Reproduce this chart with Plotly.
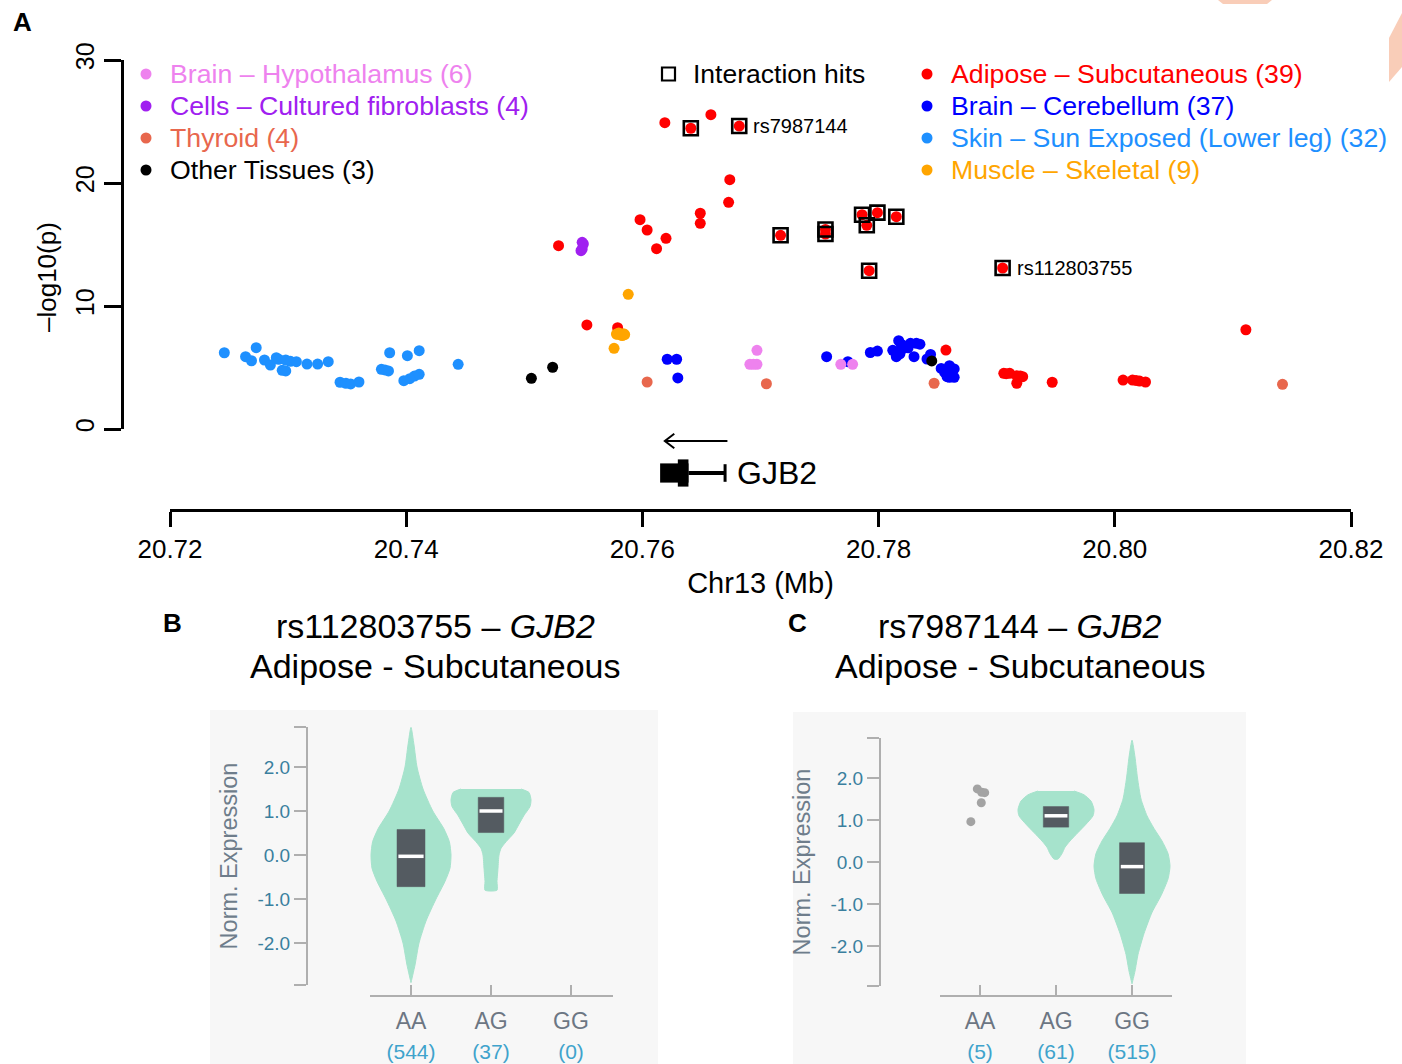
import plotly.graph_objects as go

W, H = 1402, 1064
FONT = "Liberation Sans, Arial, Helvetica, sans-serif"


def fx(x):
    return x / W


def fy(y):
    return 1 - y / H


# ------------------------------------------------------------------
# Panel A data: position (Mb) and -log10(p) per tissue
# ------------------------------------------------------------------
SKIN_X = [20.7246, 20.7264, 20.7269, 20.7273, 20.7280, 20.7285, 20.7290, 20.7292,
          20.7298, 20.7295, 20.7298, 20.7302, 20.7307, 20.7316, 20.7325, 20.7334,
          20.7344, 20.7349, 20.7353, 20.7360, 20.7379, 20.7382, 20.7385, 20.7386,
          20.7401, 20.7411, 20.7411, 20.7407, 20.7403, 20.7398, 20.7444]
SKIN_Y = [6.20, 5.88, 5.55, 6.61, 5.61, 5.20, 5.80, 5.67,
          5.61, 4.77, 4.72, 5.50, 5.47, 5.28, 5.28, 5.47,
          3.80, 3.72, 3.66, 3.82, 4.85, 4.80, 4.72, 6.20,
          5.96, 6.37, 4.45, 4.30, 4.09, 3.93, 5.26]

CEREB_X = [20.7621, 20.7629, 20.7630, 20.7756, 20.7774, 20.7793, 20.7799, 20.7817,
           20.7814, 20.7815, 20.7822, 20.7827, 20.7832, 20.7830, 20.7841, 20.7844,
           20.7853, 20.7860, 20.7864, 20.7860, 20.7864, 20.7858, 20.7819, 20.7820,
           20.7812, 20.7825, 20.7835, 20.7818, 20.7856, 20.7862]
CEREB_Y = [5.67, 5.67, 4.15, 5.88, 5.47, 6.22, 6.34, 7.18,
           6.28, 5.88, 6.75, 6.97, 6.97, 5.88, 5.69, 6.06,
           4.92, 5.15, 4.88, 4.20, 4.20, 4.25, 6.90, 6.50,
           6.40, 6.60, 6.90, 6.10, 4.60, 4.50]

ADIPOSE_X = [20.7619, 20.7641, 20.7658, 20.7682, 20.7674, 20.7673, 20.7649, 20.7649,
             20.7598, 20.7604, 20.7620, 20.7612, 20.7529, 20.7717, 20.7755, 20.7755,
             20.7786, 20.7799, 20.7790, 20.7815, 20.7792, 20.7905, 20.7553, 20.7579,
             20.7857, 20.7906, 20.7911, 20.7917, 20.7922, 20.7917, 20.7947, 20.8007,
             20.8015, 20.8021, 20.8026, 20.8111, 20.7908, 20.7920, 20.8018]
ADIPOSE_Y = [24.90, 24.45, 25.55, 24.63, 20.27, 18.43, 17.54, 16.72,
             17.02, 16.18, 15.50, 14.66, 14.90, 15.75, 16.22, 15.85,
             17.42, 17.59, 16.56, 17.26, 12.87, 13.09, 8.46, 8.24,
             6.42, 4.53, 4.53, 4.33, 4.25, 3.72, 3.80, 3.98,
             3.98, 3.90, 3.82, 8.07, 4.50, 4.30, 3.95]

FIBRO_X = [20.7549, 20.7550, 20.7548, 20.7549]
FIBRO_Y = [15.18, 15.04, 14.50, 14.63]

MUSCLE_X = [20.7588, 20.7579, 20.7584, 20.7582, 20.7576, 20.7580, 20.7583, 20.7578, 20.7585]
MUSCLE_Y = [10.95, 7.70, 7.75, 7.64, 6.56, 7.80, 7.60, 7.72, 7.68]

THYROID_X = [20.7604, 20.7705, 20.7847, 20.8142]
THYROID_Y = [3.82, 3.68, 3.72, 3.63]

HYPO_X = [20.7697, 20.7691, 20.7697, 20.7694, 20.7768, 20.7778]
HYPO_Y = [6.40, 5.26, 5.26, 5.26, 5.26, 5.26]

OTHER_X = [20.7506, 20.7524, 20.7845]
OTHER_Y = [4.12, 5.02, 5.53]

HIT_X = [20.7641, 20.7682, 20.7717, 20.7755, 20.7755, 20.7786, 20.7799,
         20.7790, 20.7815, 20.7792, 20.7905]
HIT_Y = [24.45, 24.63, 15.75, 16.22, 15.85, 17.42, 17.59,
         16.56, 17.26, 12.87, 13.09]

LABEL_SNPS = ["rs7987144", "rs112803755"]
LABEL_X = [20.7682, 20.7905]
LABEL_Y = [24.63, 13.09]

COL_HYPO = "#EE82EE"
COL_FIBRO = "#A020F0"
COL_THYROID = "#E8674D"
COL_OTHER = "#000000"
COL_ADIPOSE = "#FF0000"
COL_CEREB = "#0000FF"
COL_SKIN = "#1E90FF"
COL_MUSCLE = "#FFA500"

LEGEND_LEFT = [("Brain \u2013 Hypothalamus (6)", COL_HYPO),
               ("Cells \u2013 Cultured fibroblasts (4)", COL_FIBRO),
               ("Thyroid (4)", COL_THYROID),
               ("Other Tissues (3)", COL_OTHER)]
LEGEND_RIGHT = [("Adipose \u2013 Subcutaneous (39)", COL_ADIPOSE),
                ("Brain \u2013 Cerebellum (37)", COL_CEREB),
                ("Skin \u2013 Sun Exposed (Lower leg) (32)", COL_SKIN),
                ("Muscle \u2013 Skeletal (9)", COL_MUSCLE)]
HITS_LABEL = "Interaction hits"

X_TICKS = [20.72, 20.74, 20.76, 20.78, 20.80, 20.82]
Y_TICKS = [0, 10, 20, 30]

# Gene model (GJB2, minus strand)
GENE_NAME = "GJB2"
GENE_EXON = (20.7615, 20.7639)
GENE_CDS = (20.7630, 20.7639)
GENE_TX_END = 20.7670
GENE_ARROW = (20.7672, 20.7619)   # tail, head (direction of transcription)

# ------------------------------------------------------------------
# Panels B / C data: violin profiles (value, half-width in category units)
# ------------------------------------------------------------------
GENOTYPES = ["AA", "AG", "GG"]
B_COUNTS = [544, 37, 0]
C_COUNTS = [5, 61, 515]

B_AA_V = [2.9, 2.5, 2.0, 1.5, 1.0, 0.6, 0.3, 0.0, -0.3, -0.6, -1.0, -1.5, -2.0, -2.5, -2.9]
B_AA_W = [0.0, 0.0375, 0.075, 0.15, 0.2725, 0.41, 0.48, 0.50, 0.4875, 0.425, 0.3125, 0.1875, 0.10, 0.05, 0.0]
B_AA_BOX = (-0.72, -0.03, 0.58)   # q1, median, q3

B_AG_V = [1.5, 1.42, 1.25, 1.1, 0.9, 0.7, 0.5, 0.3, 0.15, 0.0, -0.3, -0.6, -0.8]
B_AG_W = [0.375, 0.475, 0.50, 0.4875, 0.4125, 0.35, 0.2875, 0.1875, 0.125, 0.10, 0.0875, 0.075, 0.075]
B_AG_BOX = (0.51, 1.0, 1.31)

C_AA_PTS_X = [-0.12, -0.035, 0.022, 0.062, 0.017]
C_AA_PTS_Y = [0.96, 1.74, 1.66, 1.65, 1.41]

C_AG_V = [1.69, 1.6, 1.45, 1.25, 1.1, 0.9, 0.7, 0.5, 0.35, 0.2, 0.07]
C_AG_W = [0.237, 0.368, 0.461, 0.50, 0.487, 0.395, 0.289, 0.184, 0.118, 0.079, 0.026]
C_AG_BOX = (0.83, 1.10, 1.32)

C_GG_V = [2.9, 2.5, 2.0, 1.5, 1.1, 0.8, 0.5, 0.2, -0.1, -0.4, -0.8, -1.2, -1.7, -2.2, -2.6, -2.9]
C_GG_W = [0.0, 0.039, 0.072, 0.118, 0.197, 0.289, 0.395, 0.474, 0.50, 0.474, 0.382, 0.263, 0.158, 0.079, 0.039, 0.0]
C_GG_BOX = (-0.75, -0.11, 0.46)

EXPR_TICKS = [-2, -1, 0, 1, 2]

VIOLIN_COL = "#A6E3CC"
BOX_COL = "#545B61"
AXIS_GRAY = "#AFAFAF"
TICK_BLUE = "#3A7F9E"
COUNT_BLUE = "#3FA3CC"
LABEL_GRAY = "#6C7683"

fig = go.Figure()

# ---------------- Panel A scatter ----------------
tissues = [
    (SKIN_X, SKIN_Y, COL_SKIN),
    (CEREB_X, CEREB_Y, COL_CEREB),
    (ADIPOSE_X, ADIPOSE_Y, COL_ADIPOSE),
    (FIBRO_X, FIBRO_Y, COL_FIBRO),
    (MUSCLE_X, MUSCLE_Y, COL_MUSCLE),
    (THYROID_X, THYROID_Y, COL_THYROID),
    (HYPO_X, HYPO_Y, COL_HYPO),
    (OTHER_X, OTHER_Y, COL_OTHER),
]
for xs, ys, col in tissues:
    fig.add_trace(go.Scatter(x=xs, y=ys, mode="markers", xaxis="x", yaxis="y",
                             marker=dict(size=11, color=col, line=dict(width=0)),
                             cliponaxis=False, showlegend=False, hoverinfo="x+y"))

fig.add_trace(go.Scatter(x=HIT_X, y=HIT_Y, mode="markers", xaxis="x", yaxis="y",
                         marker=dict(symbol="square-open", size=14, color="black",
                                     line=dict(width=2.6, color="black")),
                         cliponaxis=False, showlegend=False, hoverinfo="x+y"))

annotations = []
for name, xv, yv in zip(LABEL_SNPS, LABEL_X, LABEL_Y):
    annotations.append(dict(x=xv, y=yv, xref="x", yref="y", text=name, showarrow=False,
                            xanchor="left", yanchor="middle", xshift=12,
                            font=dict(family=FONT, size=20, color="black")))

# Gene track (x2 / y2), y2 range [0,1]
GENE_Y = 0.45
ARROW_Y = 0.85
shapes = []
shapes.append(dict(type="line", xref="x2", yref="y2", x0=GENE_EXON[1], x1=GENE_TX_END,
                   y0=GENE_Y, y1=GENE_Y, line=dict(color="black", width=4)))
shapes.append(dict(type="line", xref="x2", yref="y2", x0=GENE_TX_END, x1=GENE_TX_END,
                   y0=GENE_Y - 0.11, y1=GENE_Y + 0.11, line=dict(color="black", width=3)))
shapes.append(dict(type="rect", xref="x2", yref="y2", x0=GENE_EXON[0], x1=GENE_EXON[1],
                   y0=GENE_Y - 0.12, y1=GENE_Y + 0.12, line=dict(width=0), fillcolor="black"))
shapes.append(dict(type="rect", xref="x2", yref="y2", x0=GENE_CDS[0], x1=GENE_CDS[1],
                   y0=GENE_Y - 0.17, y1=GENE_Y + 0.17, line=dict(width=0), fillcolor="black"))
ah_dx = 0.0008
ah_dy = 0.09
tail, head = GENE_ARROW
shapes.append(dict(type="path", xref="x2", yref="y2",
                   path=(f"M {tail},{ARROW_Y} L {head},{ARROW_Y} "
                         f"M {head + ah_dx},{ARROW_Y + ah_dy} L {head},{ARROW_Y} "
                         f"L {head + ah_dx},{ARROW_Y - ah_dy}"),
                   line=dict(color="black", width=2)))
annotations.append(dict(x=GENE_TX_END, y=GENE_Y, xref="x2", yref="y2", text=GENE_NAME,
                        showarrow=False, xanchor="left", yanchor="middle", xshift=10,
                        font=dict(family=FONT, size=32, color="black")))


# Legends (panel A)
def legend_block(items, bx, tx, y0, step=32):
    for i, (label, col) in enumerate(items):
        yy = y0 + i * step
        shapes.append(dict(type="circle", xref="paper", yref="paper",
                           x0=fx(bx - 5.5), x1=fx(bx + 5.5), y0=fy(yy + 5.5), y1=fy(yy - 5.5),
                           line=dict(width=0), fillcolor=col))
        annotations.append(dict(x=fx(tx), y=fy(yy), xref="paper", yref="paper", text=label,
                                showarrow=False, xanchor="left", yanchor="middle",
                                font=dict(family=FONT, size=26.7, color=col)))


legend_block(LEGEND_LEFT, 146, 168, 74)
legend_block(LEGEND_RIGHT, 927, 949, 74)
shapes.append(dict(type="rect", xref="paper", yref="paper",
                   x0=fx(662), x1=fx(675), y0=fy(80.5), y1=fy(67.5),
                   line=dict(color="black", width=2.2), fillcolor="rgba(0,0,0,0)"))
annotations.append(dict(x=fx(691), y=fy(74), xref="paper", yref="paper", text=HITS_LABEL,
                        showarrow=False, xanchor="left", yanchor="middle",
                        font=dict(family=FONT, size=26.5, color="black")))

# y-axis title (panel A)
annotations.append(dict(x=fx(47), y=fy(277), xref="paper", yref="paper",
                        text="\u2013log10(p)", textangle=-90, showarrow=False,
                        xanchor="center", yanchor="middle",
                        font=dict(family=FONT, size=26, color="black")))

# Panel letters
for letter, x0, y0 in [("A", 22, 22), ("B", 172, 623), ("C", 797, 623)]:
    annotations.append(dict(x=fx(x0), y=fy(y0), xref="paper", yref="paper",
                            text=f"<b>{letter}</b>", showarrow=False,
                            xanchor="center", yanchor="middle",
                            font=dict(family=FONT, size=26, color="black")))

# Panel B / C titles
for cx, snp in [(435, "rs112803755"), (1020, "rs7987144")]:
    annotations.append(dict(x=fx(cx), y=fy(626), xref="paper", yref="paper",
                            text=f"{snp} \u2013 <i>{GENE_NAME}</i>", showarrow=False,
                            xanchor="center", yanchor="middle",
                            font=dict(family=FONT, size=34, color="black")))
    annotations.append(dict(x=fx(cx), y=fy(666), xref="paper", yref="paper",
                            text="Adipose - Subcutaneous", showarrow=False,
                            xanchor="center", yanchor="middle",
                            font=dict(family=FONT, size=34, color="black")))

# Gray backgrounds of B and C
for x0, x1, y0 in [(210, 658, 710), (793, 1246, 712)]:
    shapes.append(dict(type="rect", xref="paper", yref="paper", layer="below",
                       x0=fx(x0), x1=fx(x1), y0=fy(H), y1=fy(y0),
                       line=dict(width=0), fillcolor="#F7F7F7"))

# Decorative salmon fragments at top right
shapes.append(dict(type="path", xref="paper", yref="paper", layer="below",
                   path=f"M {fx(1218)},{fy(0)} L {fx(1272)},{fy(0)} L {fx(1267)},{fy(4)} L {fx(1223)},{fy(4)} Z",
                   line=dict(width=0), fillcolor="#F9CDB8"))
shapes.append(dict(type="path", xref="paper", yref="paper", layer="below",
                   path=f"M {fx(1389)},{fy(38)} L {fx(1402)},{fy(13)} L {fx(1402)},{fy(67)} L {fx(1389)},{fy(82)} Z",
                   line=dict(width=0), fillcolor="#F9CDB8"))


# ---------------- Violins ----------------
def add_violin(center, vals, widths, xa, ya):
    xs = [center + w for w in widths] + [center - w for w in reversed(widths)]
    ys = list(vals) + list(reversed(vals))
    fig.add_trace(go.Scatter(x=xs, y=ys, mode="lines", fill="toself", fillcolor=VIOLIN_COL,
                             line=dict(color=VIOLIN_COL, width=1, shape="spline", smoothing=0.6),
                             xaxis=xa, yaxis=ya, showlegend=False, hoverinfo="skip"))


def add_box(center, box, hw, xa, ya):
    q1, med, q3 = box
    fig.add_trace(go.Scatter(x=[center - hw, center + hw, center + hw, center - hw, center - hw],
                             y=[q1, q1, q3, q3, q1], mode="lines", fill="toself",
                             fillcolor=BOX_COL, line=dict(color=BOX_COL, width=0.5),
                             xaxis=xa, yaxis=ya, showlegend=False, hoverinfo="skip"))
    fig.add_trace(go.Scatter(x=[center - hw * 0.9, center + hw * 0.9], y=[med, med], mode="lines",
                             line=dict(color="white", width=3.5),
                             xaxis=xa, yaxis=ya, showlegend=False, hoverinfo="skip"))


add_violin(0, B_AA_V, B_AA_W, "x4", "y4")
add_violin(1, B_AG_V, B_AG_W, "x4", "y4")
add_box(0, B_AA_BOX, 0.175, "x4", "y4")
add_box(1, B_AG_BOX, 0.16, "x4", "y4")

fig.add_trace(go.Scatter(x=C_AA_PTS_X, y=C_AA_PTS_Y, mode="markers",
                         marker=dict(size=9, color="#A3A3A3"),
                         xaxis="x5", yaxis="y5", showlegend=False, hoverinfo="skip"))
add_violin(1, C_AG_V, C_AG_W, "x5", "y5")
add_violin(2, C_GG_V, C_GG_W, "x5", "y5")
add_box(1, C_AG_BOX, 0.167, "x5", "y5")
add_box(2, C_GG_BOX, 0.164, "x5", "y5")


def geno_ticktext(counts):
    return [""] + [f"{g}<br><span style='color:{COUNT_BLUE};font-size:21px'>({n})</span>"
                   for g, n in zip(GENOTYPES, counts)] + [""]


def expr_ticktext():
    return [""] + [f"{v:.1f}" for v in EXPR_TICKS] + [""]


# ---------------- Layout ----------------
B_YR = [-2.955, 2.909]
B_XR = [-0.5125, 2.525]
C_YR = [-2.952, 2.952]
C_XR = [-0.526, 2.526]

common_x_vc = dict(showgrid=False, zeroline=False, showline=True, linecolor=AXIS_GRAY, linewidth=2,
                   ticks="inside", ticklen=10, tickwidth=2, tickcolor=AXIS_GRAY,
                   tickfont=dict(family=FONT, size=23, color=LABEL_GRAY), anchor="free",
                   position=fy(996), fixedrange=True, automargin=False, ticklabelstandoff=4)
common_y_vc = dict(showgrid=False, zeroline=False, showline=True, linecolor=AXIS_GRAY, linewidth=2,
                   ticks="outside", ticklen=12, tickwidth=2, tickcolor=AXIS_GRAY,
                   tickfont=dict(family=FONT, size=19, color=TICK_BLUE), anchor="free",
                   title=dict(text="Norm. Expression", font=dict(family=FONT, size=23.5, color="#6E7D8B"),
                              standoff=12),
                   fixedrange=True, automargin=False)

fig.update_layout(
    width=W, height=H,
    margin=dict(l=0, r=0, t=0, b=0, pad=0, autoexpand=False),
    paper_bgcolor="white",
    plot_bgcolor="rgba(0,0,0,0)",
    font=dict(family=FONT, color="black"),
    showlegend=False,
    xaxis=dict(domain=[fx(170), fx(1351)], range=[20.72, 20.82], visible=False, anchor="y",
               fixedrange=True, automargin=False),
    yaxis=dict(domain=[fy(429), fy(60)], range=[0, 30], anchor="free", position=fx(122),
               showgrid=False, zeroline=False, showline=True, linecolor="black", linewidth=2.5,
               ticks="outside", ticklen=17, tickwidth=2.5, tickcolor="black",
               tickvals=Y_TICKS, tickangle=-90,
               tickfont=dict(family=FONT, size=25, color="black"), fixedrange=True,
               automargin=False),
    xaxis2=dict(domain=[fx(170), fx(1351)], range=[20.72, 20.82], anchor="y2", matches="x",
                showgrid=False, zeroline=False, showline=True, linecolor="black", linewidth=2.5,
                ticks="outside", ticklen=15, tickwidth=2.5, tickcolor="black",
                tickvals=X_TICKS, ticktext=[f"{v:.2f}" for v in X_TICKS],
                tickfont=dict(family=FONT, size=26, color="black"),
                title=dict(text="Chr13 (Mb)", font=dict(family=FONT, size=29, color="black"),
                           standoff=10),
                fixedrange=True, automargin=False),
    yaxis2=dict(domain=[fy(509), fy(429)], range=[0, 1], visible=False, anchor="x2",
                fixedrange=True, automargin=False),
    xaxis4=dict(domain=[fx(370), fx(613)], range=B_XR,
                tickvals=[B_XR[0], 0, 1, 2, B_XR[1]], ticktext=geno_ticktext(B_COUNTS),
                **common_x_vc),
    yaxis4=dict(domain=[fy(985), fy(727)], range=B_YR, position=fx(307),
                tickvals=[B_YR[0]] + EXPR_TICKS + [B_YR[1]], ticktext=expr_ticktext(),
                **common_y_vc),
    xaxis5=dict(domain=[fx(940), fx(1172)], range=C_XR,
                tickvals=[C_XR[0], 0, 1, 2, C_XR[1]], ticktext=geno_ticktext(C_COUNTS),
                **common_x_vc),
    yaxis5=dict(domain=[fy(986), fy(738)], range=C_YR, position=fx(880),
                tickvals=[C_YR[0]] + EXPR_TICKS + [C_YR[1]], ticktext=expr_ticktext(),
                **common_y_vc),
    shapes=shapes,
    annotations=annotations,
)

fig.write_html(
    "out.html",
    config={"displayModeBar": False},
    post_script="document.body.style.margin='0';document.body.style.overflow='hidden';",
)
